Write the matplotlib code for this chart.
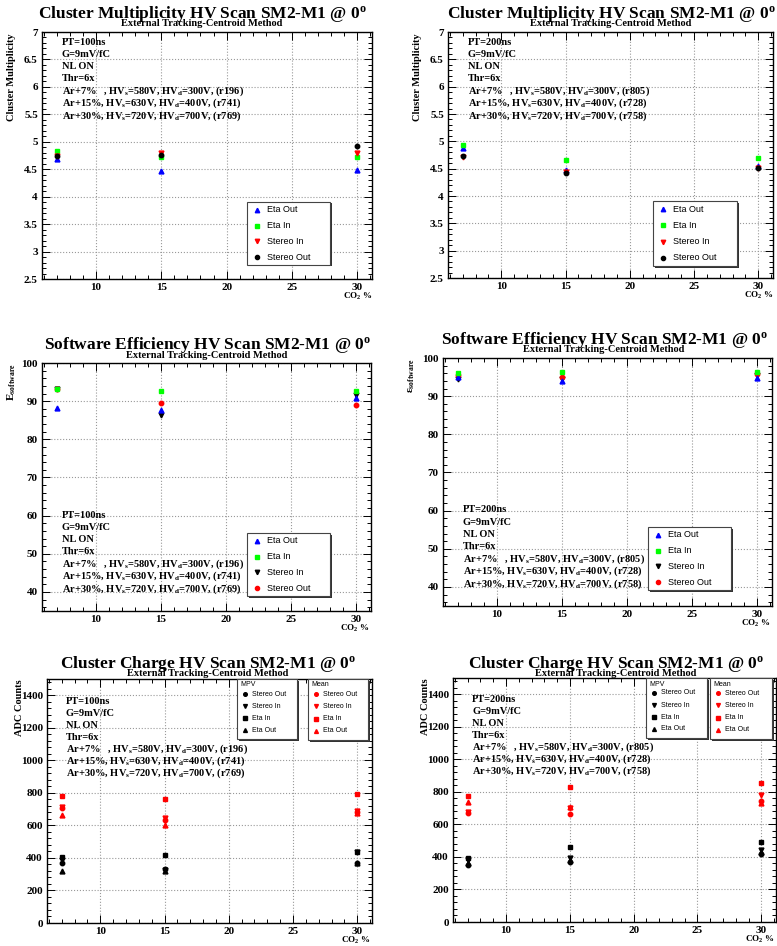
import numpy as np
import matplotlib
matplotlib.use("Agg")
import matplotlib.pyplot as plt
from matplotlib.patches import Rectangle
from matplotlib.lines import Line2D
from matplotlib.ticker import MultipleLocator, FormatStrFormatter

plt.rcParams['font.family'] = ['Liberation Serif', 'DejaVu Serif']
plt.rcParams['font.weight'] = 'bold'
plt.rcParams['mathtext.fontset'] = 'custom'
plt.rcParams['mathtext.rm'] = 'Liberation Serif:bold'
plt.rcParams['mathtext.it'] = 'Liberation Serif:bold'
plt.rcParams['mathtext.bf'] = 'Liberation Serif:bold'
plt.rcParams['mathtext.default'] = 'rm'

# ---- data ----
co2 = [7, 15, 30]

# cluster multiplicity
cm100_eta_out = [4.68, 4.47, 4.49]
cm100_eta_in = [4.84, 4.72, 4.73]
cm100_stereo_in = [4.74, 4.80, 4.80]
cm100_stereo_out = [4.74, 4.76, 4.93]

cm200_eta_out = [4.88, 4.48, 4.55]
cm200_eta_in = [4.93, 4.65, 4.70]
cm200_stereo_in = [4.71, 4.44, 4.52]
cm200_stereo_out = [4.73, 4.42, 4.52]

# software efficiency
eff100_eta_out = [88.2, 87.7, 90.8]
eff100_eta_in = [93.3, 92.7, 92.7]
eff100_stereo_in = [93.1, 86.5, 91.5]
eff100_stereo_out = [93.2, 89.5, 89.0]

eff200_eta_out = [95.0, 94.0, 94.7]
eff200_eta_in = [96.1, 96.2, 96.3]
eff200_stereo_in = [94.5, 94.5, 95.6]
eff200_stereo_out = [95.6, 95.0, 95.8]

# cluster charge (MPV / Mean)
q100_mpv_stereo_out = [370, 332, 370]
q100_mpv_stereo_in = [385, 325, 435]
q100_mpv_eta_in = [405, 415, 437]
q100_mpv_eta_out = [318, 320, 370]
q100_mean_stereo_out = [705, 632, 680]
q100_mean_stereo_in = [715, 643, 688]
q100_mean_eta_in = [780, 760, 795]
q100_mean_eta_out = [663, 601, 675]

q200_mpv_stereo_out = [350, 368, 418]
q200_mpv_stereo_in = [382, 396, 441]
q200_mpv_eta_in = [396, 462, 493]
q200_mpv_eta_out = [360, 380, 430]
q200_mean_stereo_out = [673, 663, 745]
q200_mean_stereo_in = [675, 700, 780]
q200_mean_eta_in = [774, 827, 852]
q200_mean_eta_out = [735, 710, 730]

info100 = ["PT=100ns", "G=9mV/fC", "NL ON", "Thr=6x",
           "Ar+7%   , HV$_s$=580V, HV$_d$=300V, (r196)",
           "Ar+15%, HV$_s$=630V, HV$_d$=400V, (r741)",
           "Ar+30%, HV$_s$=720V, HV$_d$=700V, (r769)"]
info200 = ["PT=200ns", "G=9mV/fC", "NL ON", "Thr=6x",
           "Ar+7%   , HV$_s$=580V, HV$_d$=300V, (r805)",
           "Ar+15%, HV$_s$=630V, HV$_d$=400V, (r728)",
           "Ar+30%, HV$_s$=720V, HV$_d$=700V, (r758)"]

W, H = 777, 946
fig = plt.figure(figsize=(W / 100, H / 100), dpi=100)


def fx(x):
    return x / W


def fy(y):
    return 1 - y / H


def make_axes(l, t, r, b, ylim, ymaj, ymin):
    ax = fig.add_axes([fx(l), fy(b), (r - l) / W, (b - t) / H])
    ax.set_xlim(5.85, 31.15)
    ax.set_ylim(*ylim)
    ax.xaxis.set_major_locator(MultipleLocator(5))
    ax.xaxis.set_minor_locator(MultipleLocator(1))
    ax.yaxis.set_major_locator(MultipleLocator(ymaj))
    ax.yaxis.set_minor_locator(MultipleLocator(ymin))
    ax.yaxis.set_major_formatter(FormatStrFormatter('%g'))
    ax.tick_params(which='both', direction='in', top=True, right=True,
                   labelsize=8, width=0.7)
    ax.tick_params(which='major', length=5.5, pad=3)
    ax.tick_params(which='minor', length=2.8)
    ax.grid(True, which='major', linestyle=':', color='#999999', linewidth=0.8)
    for s in ax.spines.values():
        s.set_linewidth(1.0)
    ax.set_axisbelow(True)
    return ax


def title(cx, y, text, sub_y):
    fig.text(fx(cx), fy(y), text, ha='center', va='center', fontsize=12.5)
    fig.text(fx(cx), fy(sub_y), "External Tracking-Centroid Method",
             ha='center', va='center', fontsize=7.5)


def info(x, y, lines, step=12.3):
    for i, s in enumerate(lines):
        fig.text(fx(x), fy(y + i * step), s, ha='left', va='center', fontsize=7.5)


def legend(l, t, r, b, entries, header=None, fs=6.5, mx=10, tx=20):
    fig.add_artist(Rectangle((fx(l + 1.5), fy(b + 1.5)), (r - l) / W, (b - t) / H,
                             transform=fig.transFigure, facecolor='#333333',
                             edgecolor='none'))
    fig.add_artist(Rectangle((fx(l), fy(b)), (r - l) / W, (b - t) / H,
                             transform=fig.transFigure, facecolor='white',
                             edgecolor='#444444', linewidth=0.8))
    n = len(entries) + (1 if header else 0)
    step = (b - t) / n
    y0 = t + step / 2
    if header:
        fig.text(fx(l + 3), fy(t + 6), header, ha='left', va='center',
                 fontsize=fs, family='Liberation Sans', weight='normal')
        y0 += step * 0.75
        step = (b - y0 - step * 0.25) / (len(entries) - 0.5) if len(entries) > 1 else step
    for i, (lab, m, c, ms) in enumerate(entries):
        yy = y0 + i * step
        fig.add_artist(Line2D([fx(l + mx)], [fy(yy)], transform=fig.transFigure,
                              marker=m, color=c, markersize=ms, linestyle='none'))
        fig.text(fx(l + tx), fy(yy), lab, ha='left', va='center', fontsize=fs,
                 family='Liberation Sans', weight='normal')


def xlab(x, y):
    fig.text(fx(x), fy(y), "CO$_2$ %", ha='right', va='center', fontsize=6.5)


BLUE, GREEN, RED, BLACK = '#0000ff', '#00ff00', '#ff0000', '#000000'

# ---- cluster multiplicity ----
for (l, t, r, b, data, lines, tx, cx, ylx, legbox) in [
        (42, 32, 372, 279,
         (cm100_eta_out, cm100_eta_in, cm100_stereo_in, cm100_stereo_out),
         info100, 62, 202, 12, (247, 202, 330, 265)),
        (448, 32, 773, 278,
         (cm200_eta_out, cm200_eta_in, cm200_stereo_in, cm200_stereo_out),
         info200, 468, 611, 418, (653, 201, 737, 266))]:
    ax = make_axes(l, t, r, b, (2.5, 7), 0.5, 0.1)
    eo, ei, si, so = data
    ax.plot(co2, eo, '^', color=BLUE, ms=3.5)
    ax.plot(co2, ei, 's', color=GREEN, ms=3.5)
    ax.plot(co2, si, 'v', color=RED, ms=3.5)
    ax.plot(co2, so, 'o', color=BLACK, ms=3.2)
    title(cx, 14, "Cluster Multiplicity HV Scan SM2-M1 @ 0$^o$", 24)
    info(tx, 42, lines)
    fig.text(fx(ylx), fy(t + 1), "Cluster Multiplicity", rotation=90,
             ha='center', va='top', fontsize=7.5)
    xlab(r, b + 17)
    legend(*legbox, [("Eta Out", '^', BLUE, 3.2), ("Eta In", 's', GREEN, 3.2),
                     ("Stereo In", 'v', RED, 3.2), ("Stereo Out", 'o', BLACK, 3)])

# ---- software efficiency ----
for (l, t, r, b, data, lines, tx, ty, cx, tyy, ylx, ylab, legbox) in [
        (42, 363, 371, 611,
         (eff100_eta_out, eff100_eta_in, eff100_stereo_in, eff100_stereo_out),
         info100, 62, 515, 207, 345, 12, "E$_{software}$", (247, 533, 330, 596)),
        (443, 358, 772, 606,
         (eff200_eta_out, eff200_eta_in, eff200_stereo_in, eff200_stereo_out),
         info200, 463, 510, 604, 340, 412, "ε$_{software}$", (648, 527, 731, 590))]:
    ax = make_axes(l, t, r, b, (35, 100), 10, 2)
    eo, ei, si, so = data
    ax.plot(co2, si, 'v', color=BLACK, ms=3.5)
    ax.plot(co2, so, 'o', color=RED, ms=3.2)
    ax.plot(co2, eo, '^', color=BLUE, ms=3.5)
    ax.plot(co2, ei, 's', color=GREEN, ms=3.5)
    title(cx, tyy, "Software Efficiency HV Scan SM2-M1 @ 0$^o$", tyy + 10)
    info(tx, ty, lines)
    fig.text(fx(ylx), fy(t), ylab, rotation=90, ha='center', va='top', fontsize=8)
    xlab(r - 2, b + 17)
    legend(*legbox, [("Eta Out", '^', BLUE, 3.2), ("Eta In", 's', GREEN, 3.2),
                     ("Stereo In", 'v', BLACK, 3.2), ("Stereo Out", 'o', RED, 3)])

# ---- cluster charge ----
for (l, t, r, b, mpv, mean, lines, tx, ty, cx, ylx, box1, box2) in [
        (47, 679, 372, 923,
         (q100_mpv_stereo_out, q100_mpv_stereo_in, q100_mpv_eta_in, q100_mpv_eta_out),
         (q100_mean_stereo_out, q100_mean_stereo_in, q100_mean_eta_in, q100_mean_eta_out),
         info100, 66, 701, 208, 20, (237, 679, 297, 739), (308, 679, 368, 740)),
        (453, 678, 776, 922,
         (q200_mpv_stereo_out, q200_mpv_stereo_in, q200_mpv_eta_in, q200_mpv_eta_out),
         (q200_mean_stereo_out, q200_mean_stereo_in, q200_mean_eta_in, q200_mean_eta_out),
         info200, 472, 699, 616, 425, (646, 678, 707, 738), (710, 678, 772, 739))]:
    ax = make_axes(l, t, r, b, (0, 1500), 200, 40)
    for vals, col in [(mpv, BLACK), (mean, RED)]:
        so, si, ei, eo = vals
        ax.plot(co2, so, 'o', color=col, ms=3.2)
        ax.plot(co2, si, 'v', color=col, ms=3.5)
        ax.plot(co2, ei, 's', color=col, ms=3.5)
        ax.plot(co2, eo, '^', color=col, ms=3.5)
    title(cx, 664, "Cluster Charge HV Scan SM2-M1 @ 0$^o$", 673)
    info(tx, ty, lines, step=12.1)
    fig.text(fx(ylx), fy(t), "ADC Counts", rotation=90, ha='center', va='top',
             fontsize=7.5)
    xlab(r - 2, b + 17)
    for box, col, hd in [(box1, BLACK, "MPV"), (box2, RED, "Mean")]:
        legend(*box, [("Stereo Out", 'o', col, 2.6), ("Stereo In", 'v', col, 2.8),
                      ("Eta In", 's', col, 2.8), ("Eta Out", '^', col, 2.8)],
               header=hd, fs=5, mx=8, tx=15)

fig.savefig("out.png", dpi=100)
